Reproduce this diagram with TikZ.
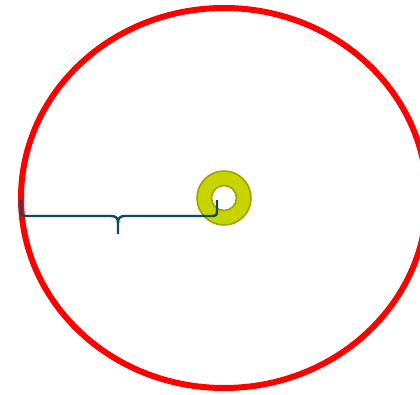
\documentclass[tikz,border=0pt]{standalone}
\begin{document}
\begin{tikzpicture}[x=1pt,y=-1pt,
  orbit/.style={draw=red,line width=6pt},
  ringstyle/.style={draw=ringedge,fill=ringfill,line width=1.6pt,even odd rule},
  bracestyle/.style={draw=braceblue,line width=2.4pt,line join=round}]
\definecolor{ringfill}{HTML}{C8D400}
\definecolor{ringedge}{HTML}{9CA300}
\definecolor{braceblue}{HTML}{0D4A5E}
\useasboundingbox (0,0) rectangle (420,394);
\coordinate (c) at (224,198);
\draw[orbit] (c) ellipse [x radius=203, y radius=190];
\path[ringstyle] (c) circle [radius=27] (c) circle [radius=12.5];
\coordinate (bl) at (21,200);
\coordinate (br) at (217,200);
\coordinate (tip) at (118,234);
\draw[bracestyle] (bl) -- (21,211) .. controls (21,215) and (22,216) .. (26,216)
  -- (111,216) .. controls (116,216) and (118,218) .. (118,223) -- (tip);
\draw[bracestyle] (br) -- (217,211) .. controls (217,215) and (216,216) .. (212,216)
  -- (125,216) .. controls (120,216) and (118,218) .. (118,223);
\end{tikzpicture}
\end{document}
